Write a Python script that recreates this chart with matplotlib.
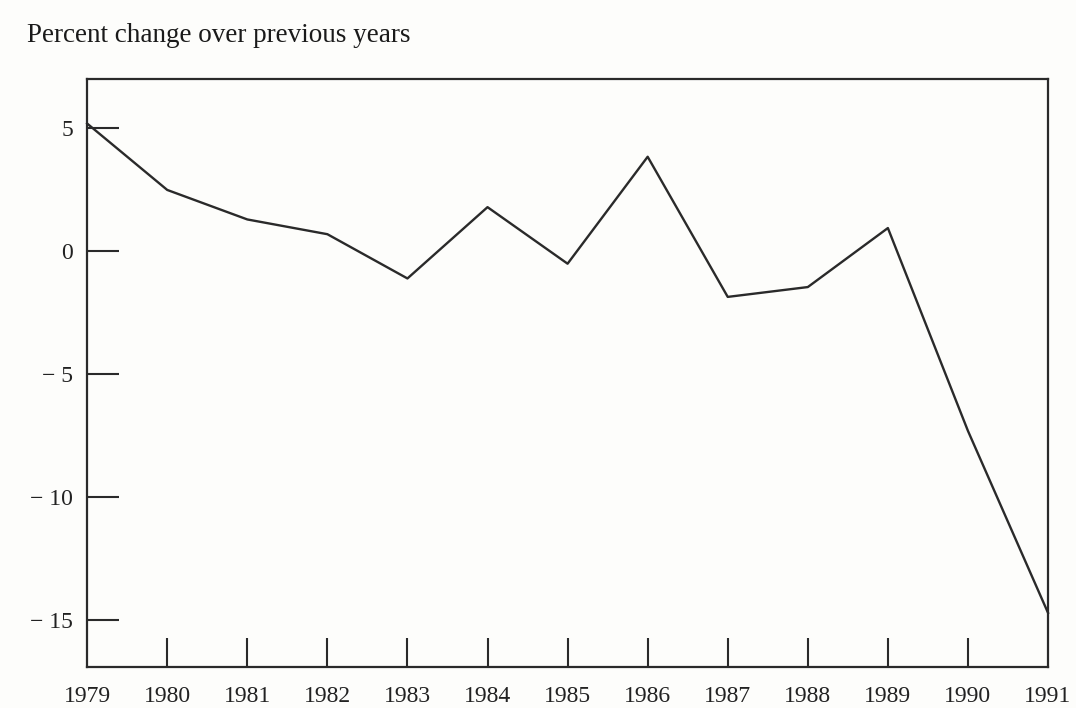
import matplotlib.pyplot as plt
import numpy as np

# dane
lata = [1979, 1980, 1981, 1982, 1983, 1984, 1985, 1986, 1987, 1988, 1989, 1990, 1991]
zmiana = [5.2, 2.5, 1.3, 0.7, -1.1, 1.8, -0.5, 3.85, -1.85, -1.45, 0.95, -7.3, -14.7]

y_ticki = [5, 0, -5, -10, -15]
y_etykiety = ['5', '0', '\u2212 5', '\u2212 10', '\u2212 15']

plt.rcParams['font.family'] = ['Liberation Serif', 'DejaVu Serif']
kolor = '#2a2a2a'

fig = plt.figure(figsize=(10.76, 7.08), dpi=100)
fig.patch.set_facecolor('#fdfdfb')
ax = fig.add_axes([0.081, 0.058, 0.893, 0.830])
ax.set_facecolor('#fdfdfb')

ax.plot(lata, zmiana, color=kolor, linewidth=1.7, clip_on=False)

ax.set_xlim(1979, 1991)
ax.set_ylim(-16.9, 7.0)

ax.set_xticks(lata)
ax.set_xticklabels([str(r) for r in lata], fontsize=17, color='#222')
ax.set_yticks(y_ticki)
ax.set_yticklabels(y_etykiety, fontsize=17, color='#222')

ax.tick_params(axis='x', direction='in', length=21, width=1.5, color=kolor, pad=14)
ax.tick_params(axis='y', direction='in', length=23, width=1.5, color=kolor, pad=10)

# ticki na krawedziach osi x nie sa rysowane
for t in [ax.xaxis.get_major_ticks()[0], ax.xaxis.get_major_ticks()[-1]]:
    t.tick1line.set_visible(False)

for s in ax.spines.values():
    s.set_color(kolor)
    s.set_linewidth(1.6)

fig.text(27 / 1076, 1 - 35 / 708, 'Percent change over previous years',
         fontsize=19.5, color='#1a1a1a', ha='left', va='center')

plt.savefig('out.png', dpi=100, facecolor=fig.get_facecolor())
